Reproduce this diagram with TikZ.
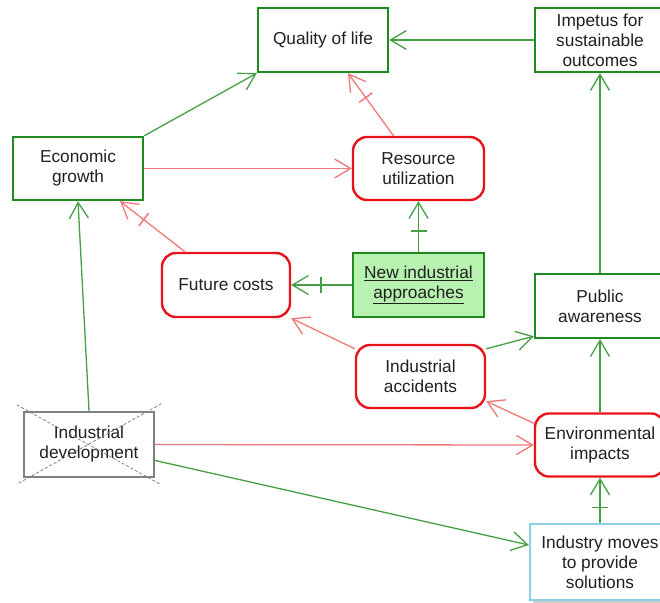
\documentclass[tikz,border=0pt]{standalone}
\usepackage{fontspec}
\setmainfont{Liberation Sans}
\usetikzlibrary{arrows.meta,decorations.markings,calc}
\definecolor{boxgreen}{HTML}{1F8A1F}
\definecolor{linegreen}{HTML}{45A045}
\definecolor{boxred}{HTML}{E8141C}
\definecolor{linered}{HTML}{F07878}
\definecolor{fillgreen}{HTML}{B8F2B0}
\definecolor{boxblue}{HTML}{8ECFE3}
\definecolor{boxgray}{HTML}{808080}
\definecolor{txt}{HTML}{202020}
\begin{document}
\begin{tikzpicture}[x=1pt,y=-1pt,
  font=\fontsize{17.3}{20}\selectfont, text=txt,
  base/.style={draw, line width=2.4pt, align=center, inner sep=0pt},
  gbox/.style={base, draw=boxgreen},
  rbox/.style={base, draw=boxred, rounded corners=14pt},
  conn/.style={line width=1.3pt, -{Straight Barb[length=16pt,width=19pt]}},
  gl/.style={conn, draw=linegreen},
  rl/.style={conn, draw=linered},
  negbar/.style={postaction={decorate,decoration={markings,
     mark=at position -30pt with {\draw[-,line width=1.5pt] (0,-8pt) -- (0,8pt);}}}}
]
\useasboundingbox (0,0) rectangle (660,602);
\clip (0,0) rectangle (660,602);
\fill[white] (0,0) rectangle (660,602);

\node[gbox, minimum width=130pt, minimum height=64pt] (qol) at (323,40) {Quality of life};
\node[gbox, minimum width=130pt, minimum height=64pt] (imp) at (600,40) {Impetus for\\sustainable\\outcomes};
\node[gbox, minimum width=130pt, minimum height=63pt] (eco) at (78,168.5) {Economic\\growth};
\node[rbox, minimum width=131pt, minimum height=63pt] (res) at (418.5,168.5) {Resource\\utilization};
\node[rbox, minimum width=128pt, minimum height=64pt] (fut) at (226,285) {Future costs};
\node[gbox, fill=fillgreen, minimum width=131pt, minimum height=64pt] (nia) at (418.5,285) {\underline{New industrial}\\\underline{approaches}};
\node[gbox, minimum width=130pt, minimum height=64pt] (pub) at (600,306) {Public\\awareness};
\node[rbox, minimum width=129pt, minimum height=63pt] (acc) at (420.5,376.5) {Industrial\\accidents};
\node[base, draw=boxgray, minimum width=130pt, minimum height=65pt] (dev) at (89,444.5) {Industrial\\development};
\node[rbox, minimum width=130pt, minimum height=63pt] (env) at (600,445) {Environmental\\impacts};
\fill[boxgray!40] (533,527) rectangle (672,603);
\node[base, draw=boxblue, fill=white, minimum width=140pt, minimum height=76pt] (ind) at (600,562) {Industry moves\\to provide\\solutions};

% crossed-out development
\draw[boxgray, line width=0.8pt, densely dashed] ($(dev.north west)+(-6,-6)$) -- ($(dev.south east)+(5,6)$);
\draw[boxgray, line width=0.8pt, densely dashed] ($(dev.north east)+(6,-7)$) -- ($(dev.south west)+(-6,6)$);

% connectors
\draw[gl] (eco.north east) -- (qol.south west);
\draw[gl] (imp.west) -- (qol.east);
\draw[gl] (pub.north) -- (imp.south);
\draw[rl] (eco.east) -- (res.west);
\draw[rl, negbar] ($(res.north)+(-25,0)$) -- ($(qol.south)+(25,0)$);
\draw[gl, negbar] (nia.north) -- (res.south);
\draw[gl, negbar] (nia.west) -- (fut.east);
\draw[rl, negbar] ($(fut.north)+(-41,0)$) -- ($(eco.south)+(42,0)$);
\draw[rl] ($(acc.north west)+(0,5)$) -- ($(fut.south east)+(0,0)$);
\draw[gl] ($(acc.north east)+(0,5)$) -- ($(pub.south west)+(0,-3)$);
\draw[rl] ($(env.north west)+(0,11)$) -- ($(acc.south east)+(0,-8)$);
\draw[gl] (env.north) -- (pub.south);
\draw[gl] (dev.north) -- (eco.south);
\draw[rl] (dev.east) -- (env.west);
\draw[gl] ($(dev.east)+(0,16)$) -- ($(ind.west)+(0,-17)$);
\draw[gl, negbar] (ind.north) -- (env.south);
\end{tikzpicture}
\end{document}
